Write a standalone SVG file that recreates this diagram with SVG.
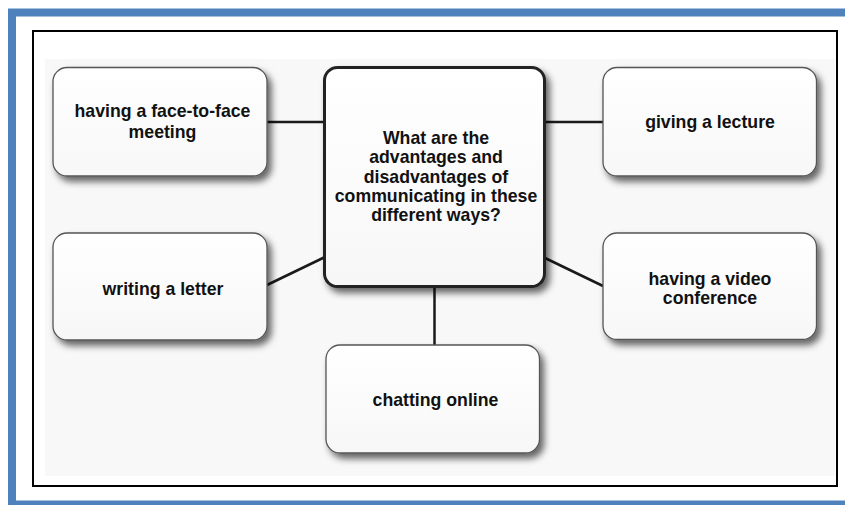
<svg xmlns="http://www.w3.org/2000/svg" width="845" height="505" viewBox="0 0 845 505">
<defs>
<filter id="sh" x="-10%" y="-10%" width="130%" height="135%">
<feDropShadow dx="4" dy="5" stdDeviation="3.5" flood-color="#000" flood-opacity="0.6"/>
</filter>
<linearGradient id="fill" x1="0" y1="0" x2="0" y2="1">
<stop offset="0" stop-color="#ffffff"/>
<stop offset="1" stop-color="#f7f7f7"/>
</linearGradient>
</defs>
<style>
.node{fill:url(#fill);stroke:#555;stroke-width:1.3;filter:url(#sh)}
.center{fill:url(#fill);stroke:#222;stroke-width:3;filter:url(#sh)}
.lbl{font-family:"Liberation Sans",Arial,sans-serif;font-weight:bold;font-size:17.7px;fill:#111;text-anchor:middle}
.conn line{stroke:#1a1a1a;stroke-width:2.5}
</style>
<rect x="0" y="0" width="845" height="505" fill="#ffffff"/>
<rect x="12" y="12.5" width="845" height="492" fill="none" stroke="#4f81bd" stroke-width="8"/>
<rect x="34" y="32" width="804" height="455" fill="#555" opacity="0.6"/>
<rect x="33" y="31" width="804" height="455" fill="#ffffff" stroke="#000" stroke-width="2"/>
<rect x="45" y="59" width="790" height="417" fill="#f8f8f8"/>
<g class="conn">
<line x1="267" y1="122" x2="324" y2="122"/>
<line x1="545" y1="122" x2="603" y2="122"/>
<line x1="267" y1="285" x2="324" y2="257.5"/>
<line x1="545" y1="258" x2="603" y2="286"/>
<line x1="434.5" y1="287" x2="434.5" y2="345"/>
</g>
<g id="n-face">
<rect class="node" x="53" y="67.5" width="214" height="108.5" rx="14"/>
<text class="lbl" x="162.5" y="117">having a face-to-face</text>
<text class="lbl" x="162.5" y="137.5">meeting</text>
</g>
<g id="n-center">
<rect class="center" x="324.5" y="67.5" width="220" height="219" rx="13"/>
<text class="lbl" x="436" y="144">What are the</text>
<text class="lbl" x="436" y="163.3">advantages and</text>
<text class="lbl" x="436" y="182.6">disadvantages of</text>
<text class="lbl" x="436" y="201.9">communicating in these</text>
<text class="lbl" x="436" y="221.2">different ways?</text>
</g>
<g id="n-lecture">
<rect class="node" x="603" y="67.5" width="213.5" height="108.5" rx="14"/>
<text class="lbl" x="710" y="128">giving a lecture</text>
</g>
<g id="n-letter">
<rect class="node" x="53" y="233" width="214" height="107" rx="14"/>
<text class="lbl" x="163" y="295">writing a letter</text>
</g>
<g id="n-video">
<rect class="node" x="603" y="233" width="213.5" height="106.5" rx="14"/>
<text class="lbl" x="710" y="285">having a video</text>
<text class="lbl" x="710" y="304">conference</text>
</g>
<g id="n-chat">
<rect class="node" x="326" y="345" width="213.5" height="108" rx="14"/>
<text class="lbl" x="435.5" y="406">chatting online</text>
</g>
</svg>
